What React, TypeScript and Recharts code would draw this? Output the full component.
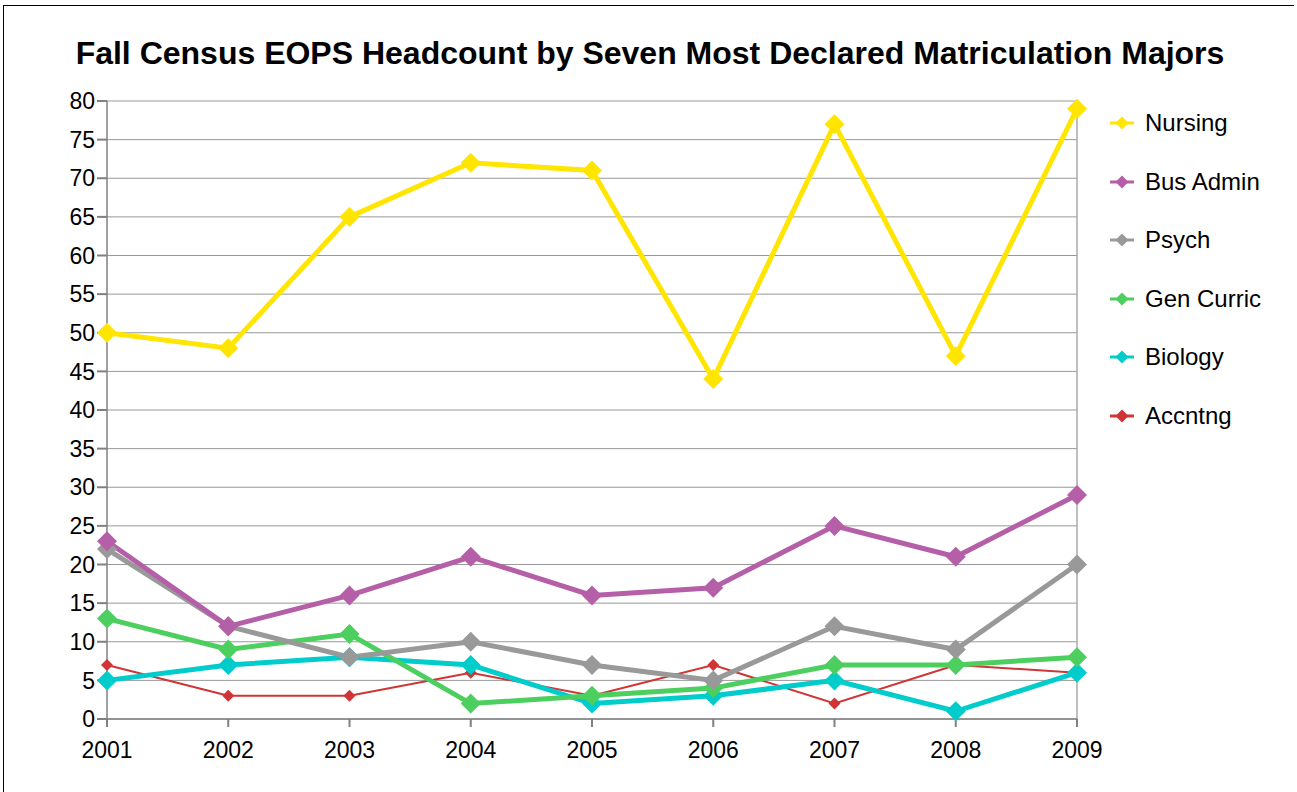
import React from "react";
import {
  LineChart,
  Line,
  XAxis,
  YAxis,
  CartesianGrid,
  ReferenceLine,
  Legend,
} from "recharts";

const years = ["2001", "2002", "2003", "2004", "2005", "2006", "2007", "2008", "2009"];
const nursing = [50, 48, 65, 72, 71, 44, 77, 47, 79];
const busAdmin = [23, 12, 16, 21, 16, 17, 25, 21, 29];
const psych = [22, 12, 8, 10, 7, 5, 12, 9, 20];
const genCurric = [13, 9, 11, 2, 3, 4, 7, 7, 8];
const biology = [5, 7, 8, 7, 2, 3, 5, 1, 6];
const accntng = [7, 3, 3, 6, 3, 7, 2, 7, 6];
const yTicks = [0, 5, 10, 15, 20, 25, 30, 35, 40, 45, 50, 55, 60, 65, 70, 75, 80];

const FONT = "'Liberation Sans', Arial, sans-serif";

// legend order (top to bottom); drawn in reverse so Nursing sits on top
const series = [
  { key: "nursing", name: "Nursing", color: "#FFE500", values: nursing, width: 5, r: 10 },
  { key: "busAdmin", name: "Bus Admin", color: "#B45FA8", values: busAdmin, width: 5, r: 10 },
  { key: "psych", name: "Psych", color: "#999999", values: psych, width: 5, r: 10 },
  { key: "genCurric", name: "Gen Curric", color: "#4CCF5E", values: genCurric, width: 5, r: 10 },
  { key: "biology", name: "Biology", color: "#00CCCC", values: biology, width: 5, r: 10 },
  { key: "accntng", name: "Accntng", color: "#D03434", values: accntng, width: 2, r: 6 },
];

const data = years.map((year, i) => {
  const row: Record<string, string | number> = { year };
  series.forEach((s) => {
    row[s.key] = s.values[i];
  });
  return row;
});

function diamond(r: number, color: string) {
  return (props: any) => {
    const { cx, cy, index } = props;
    if (cx == null || cy == null) return <g key={`d-${index}`} />;
    return (
      <path
        key={`d-${index}`}
        d={`M${cx},${cy - r}L${cx + r},${cy}L${cx},${cy + r}L${cx - r},${cy}Z`}
        fill={color}
        stroke="none"
      />
    );
  };
}

function renderLegend() {
  return (
    <div style={{ fontFamily: FONT, fontSize: 24 }}>
      {series.map((s) => (
        <div
          key={s.key}
          style={{ height: 58.5, display: "flex", alignItems: "center" }}
        >
          <svg width={24} height={16} style={{ marginRight: 11 }}>
            <line x1={0} y1={8} x2={24} y2={8} stroke={s.color} strokeWidth={3} />
            <path d="M12,1.5L18.5,8L12,14.5L5.5,8Z" fill={s.color} />
          </svg>
          <span style={{ color: "#000" }}>{s.name}</span>
        </div>
      ))}
    </div>
  );
}

export default function App() {
  return (
    <div
      style={{
        position: "absolute",
        left: 0,
        top: 0,
        width: 1297,
        height: 792,
        background: "#fff",
        overflow: "hidden",
      }}
    >
      <div
        style={{
          position: "absolute",
          left: 3,
          top: 5,
          width: 1290,
          height: 800,
          borderTop: "1.5px solid #000",
          borderLeft: "1.5px solid #000",
        }}
      />
      <div
        style={{
          position: "absolute",
          left: 0,
          width: 1300,
          top: 35,
          textAlign: "center",
          fontFamily: FONT,
          fontWeight: "bold",
          fontSize: 32,
          lineHeight: "36px",
          color: "#000",
        }}
      >
        Fall Census EOPS Headcount by Seven Most Declared Matriculation Majors
      </div>
      <div style={{ position: "absolute", left: 0, top: 0 }}>
        <LineChart
          width={1297}
          height={792}
          data={data}
          margin={{ top: 101, right: 30, bottom: 13, left: 47 }}
        >
          <CartesianGrid vertical={false} stroke="#999" strokeWidth={1} />
          <ReferenceLine x="2009" stroke="#aaa" strokeWidth={1.5} />
          <XAxis
            dataKey="year"
            tickSize={8}
            tickMargin={15}
            height={60}
            interval={0}
            padding={{ left: 0, right: 0 }}
            axisLine={{ stroke: "#808080", strokeWidth: 1.5 }}
            tickLine={{ stroke: "#808080", strokeWidth: 2 }}
            tick={{ fill: "#000", fontSize: 23, fontFamily: FONT }}
          />
          <YAxis
            domain={[0, 80]}
            ticks={yTicks}
            interval={0}
            width={60}
            tickSize={10}
            tickMargin={2}
            axisLine={{ stroke: "#808080", strokeWidth: 1.5 }}
            tickLine={{ stroke: "#808080", strokeWidth: 2 }}
            tick={{ fill: "#000", fontSize: 23, fontFamily: FONT }}
          />
          {[...series].reverse().map((s) => (
            <Line
              key={s.key}
              dataKey={s.key}
              name={s.name}
              stroke={s.color}
              strokeWidth={s.width}
              type="linear"
              dot={diamond(s.r, s.color)}
              activeDot={false}
              isAnimationActive={false}
            />
          ))}
          <Legend
            layout="vertical"
            verticalAlign="top"
            align="right"
            content={renderLegend}
            wrapperStyle={{ left: 1110, top: 94, width: 190 }}
          />
        </LineChart>
      </div>
    </div>
  );
}
